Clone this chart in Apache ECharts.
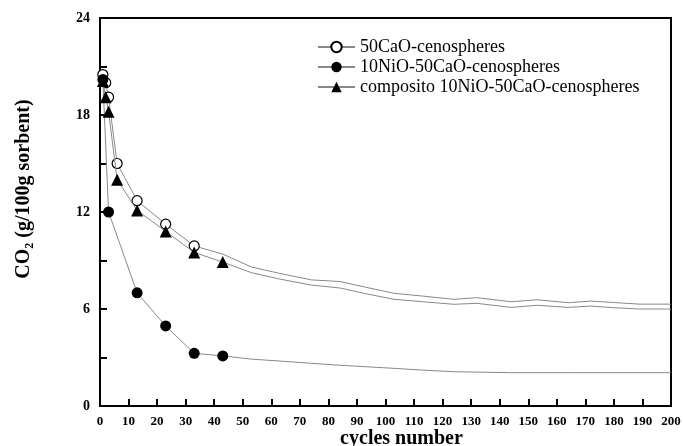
<!DOCTYPE html>
<html>
<head>
<meta charset="utf-8">
<script src="https://cdn.jsdelivr.net/npm/echarts@6/dist/echarts.min.js"></script>
<style>
  html, body { margin: 0; padding: 0; background: #fff; }
  #chart { width: 683px; height: 446px; }
</style>
</head>
<body>
<div id="chart"></div>
<script>
// 数据
var names = ['50CaO-cenospheres', '10NiO-50CaO-cenospheres', 'composito 10NiO-50CaO-cenospheres'];

var caoMarkX = [1, 2, 3, 6, 13, 23, 33];
var caoMarkY = [20.5, 20.0, 19.1, 15.0, 12.7, 11.25, 9.9];
var caoTailX = [43, 53, 63, 74, 84, 93, 103, 113, 124, 132, 144, 153, 164, 172, 180, 189, 200];
var caoTailY = [9.4, 8.6, 8.2, 7.8, 7.7, 7.35, 6.97, 6.8, 6.6, 6.7, 6.45, 6.57, 6.39, 6.49, 6.4, 6.3, 6.3];

var niMarkX = [1, 3, 13, 23, 33, 43];
var niMarkY = [20.2, 12.0, 7.0, 4.95, 3.26, 3.1];
var niTailX = [53, 63, 74, 84, 93, 103, 113, 124, 144, 164, 200];
var niTailY = [2.9, 2.78, 2.64, 2.52, 2.43, 2.33, 2.22, 2.12, 2.06, 2.06, 2.06];

var compMarkX = [1, 2, 3, 6, 13, 23, 33, 43];
var compMarkY = [20.1, 19.1, 18.2, 14.0, 12.1, 10.8, 9.5, 8.9];
var compTailX = [53, 63, 74, 84, 93, 103, 113, 124, 132, 144, 153, 164, 172, 180, 189, 200];
var compTailY = [8.25, 7.85, 7.48, 7.3, 6.95, 6.6, 6.45, 6.29, 6.35, 6.1, 6.23, 6.1, 6.18, 6.08, 6.0, 6.0];

var xTicks = { min: 0, max: 200, interval: 10 };
var yTicks = { min: 0, max: 24, interval: 6 };

// 带标记的点 + 无标记的尾部
function build(mx, my, tx, ty) {
  var d = [];
  for (var i = 0; i < mx.length; i++) d.push([mx[i], my[i]]);
  for (var j = 0; j < tx.length; j++) d.push({ value: [tx[j], ty[j]], symbol: 'none' });
  return d;
}

var font = 'Liberation Serif';
var chart = echarts.init(document.getElementById('chart'));

var option = {
  animation: false,
  grid: {
    left: 100, right: 12, top: 18, bottom: 40,
    outerBoundsMode: 'none',
    show: true, borderColor: '#000', borderWidth: 2
  },
  legend: {
    orient: 'vertical',
    left: 312, top: 33,
    itemWidth: 37, itemHeight: 13, itemGap: 2,
    textStyle: { fontFamily: font, fontSize: 18, color: '#000' },
    data: names
  },
  xAxis: {
    type: 'value',
    min: xTicks.min, max: xTicks.max, interval: xTicks.interval,
    name: 'cycles number',
    nameLocation: 'middle', nameGap: 23, nameMoveOverlap: false,
    nameTextStyle: { fontFamily: font, fontWeight: 'bold', fontSize: 20, color: '#000', padding: [0, 0, 0, 32] },
    axisLine: { lineStyle: { color: '#000', width: 2 } },
    axisTick: { inside: true, length: 7, lineStyle: { color: '#000', width: 2 } },
    axisLabel: { fontFamily: font, fontWeight: 'bold', fontSize: 13, color: '#000', margin: 9 },
    splitLine: { show: false }
  },
  yAxis: {
    type: 'value',
    min: yTicks.min, max: yTicks.max, interval: yTicks.interval,
    name: '{a|CO}{s|2}{a| (g/100g sorbent)}',
    nameLocation: 'middle', nameGap: 64, nameMoveOverlap: false,
    nameTextStyle: {
      padding: [0, 0, 0, 46],
      rich: {
        a: { fontFamily: font, fontWeight: 'bold', fontSize: 20, color: '#000', lineHeight: 24 },
        s: { fontFamily: font, fontWeight: 'bold', fontSize: 12, color: '#000', lineHeight: 24, verticalAlign: 'bottom', padding: [10, 0, 0, 0] }
      }
    },
    axisLine: { lineStyle: { color: '#000', width: 2 } },
    axisTick: { inside: true, length: 7, lineStyle: { color: '#000', width: 2 } },
    minorTick: { show: true, splitNumber: 2, length: 7, lineStyle: { color: '#000', width: 2 } },
    axisLabel: { fontFamily: font, fontWeight: 'bold', fontSize: 14, color: '#000', margin: 10 },
    splitLine: { show: false }
  },
  series: [
    {
      name: names[0], type: 'line', symbol: 'circle', symbolSize: 10, z: 2,
      lineStyle: { color: '#888', width: 1 },
      itemStyle: { color: '#fff', borderColor: '#000', borderWidth: 1.2 },
      data: build(caoMarkX, caoMarkY, caoTailX, caoTailY)
    },
    {
      name: names[1], type: 'line', symbol: 'circle', symbolSize: 11, z: 3,
      lineStyle: { color: '#888', width: 1 },
      itemStyle: { color: '#000', borderColor: '#000', borderWidth: 0 },
      data: build(niMarkX, niMarkY, niTailX, niTailY)
    },
    {
      name: names[2], type: 'line', symbol: 'triangle', symbolSize: 12, z: 4,
      lineStyle: { color: '#888', width: 1 },
      itemStyle: { color: '#000', borderColor: '#000', borderWidth: 0 },
      data: build(compMarkX, compMarkY, compTailX, compTailY)
    }
  ]
};

chart.setOption(option);
</script>
</body>
</html>
